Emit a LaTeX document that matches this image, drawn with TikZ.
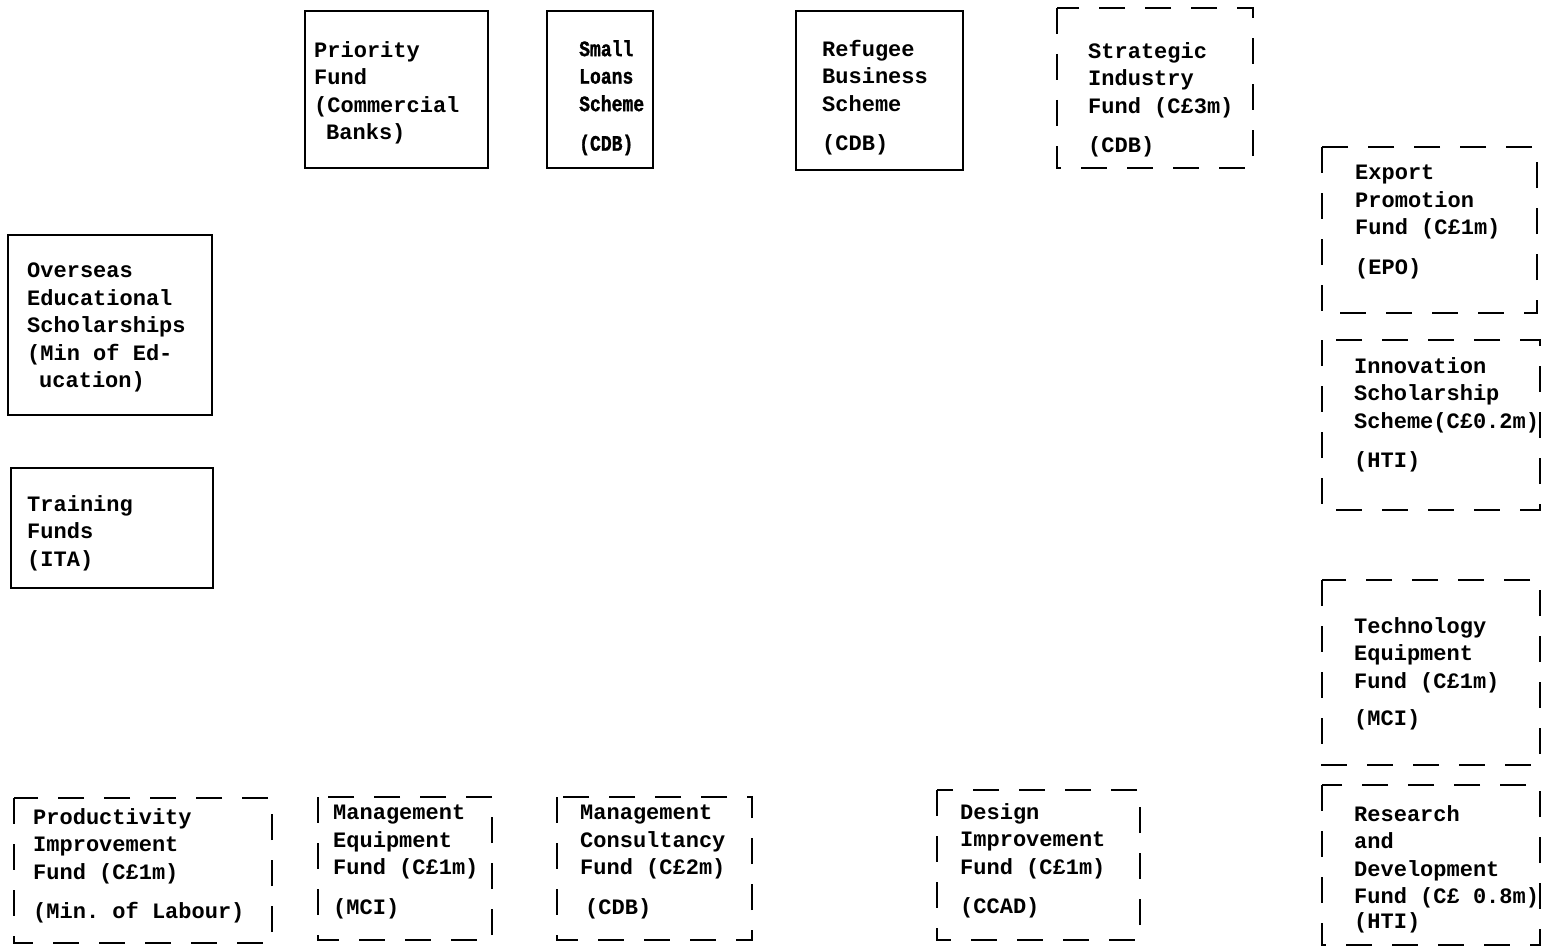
\documentclass[tikz,border=0pt]{standalone}
\usepackage{fontspec}
\setmonofont{Liberation Mono}
\tikzset{
  solidbox/.style={line width=2.6pt},
  dashbox/.style={line width=2.6pt, dash pattern=on 26pt off 20pt},
  fundtext/.style={anchor=north west, inner sep=0pt, align=left,
    font=\ttfamily\bfseries\fontsize{22}{27.5}\selectfont}
}
\begin{document}
\begin{tikzpicture}[x=1pt,y=-1pt]

    \useasboundingbox (0,0) rectangle (1544,947);

    % Top row
    \draw[solidbox] (305,11) rectangle (488,168);
    \node[fundtext] (priority) at (314,41) {Priority\\Fund\\(Commercial\\\hspace*{12pt}Banks)};

    \draw[solidbox] (547,11) rectangle (653,168);
    \node[fundtext, font=\ttfamily\bfseries\fontsize{22}{27.5}\selectfont\addfontfeatures{FakeStretch=0.82,FakeBold=1.2}] (smallloans) at (579,40) {Small\\Loans\\Scheme\\[12pt](CDB)};

    \draw[solidbox] (796,11) rectangle (963,170);
    \node[fundtext] (refugee) at (822,40) {Refugee\\Business\\Scheme\\[12pt](CDB)};

    \draw[dashbox] (1057,8) rectangle (1253,168);
    \node[fundtext] (strategic) at (1088,42) {Strategic\\Industry\\Fund (C£3m)\\[12pt](CDB)};

    % Left column
    \draw[solidbox] (8,235) rectangle (212,415);
    \node[fundtext] (overseas) at (27,263) {Overseas\\Educational\\Scholarships\\(Min of Ed-\\\hspace*{12pt}ucation)};

    \draw[solidbox] (11,468) rectangle (213,588);
    \node[fundtext] (training) at (27,495) {Training\\Funds\\(ITA)};

    % Right column
    \draw[dashbox] (1322,147) rectangle (1537,313);
    \node[fundtext] (export) at (1355,165) {Export\\Promotion\\Fund (C£1m)\\[12pt](EPO)};

    \draw[dashbox] (1322,340) rectangle (1540,510);
    \node[fundtext] (innovation) at (1354,357) {Innovation\\Scholarship\\Scheme(C£0.2m)\\[12pt](HTI)};

    \draw[dashbox] (1322,580) rectangle (1540,765);
    \node[fundtext] (technology) at (1354,617) {Technology\\Equipment\\Fund (C£1m)\\[10pt](MCI)};

    \draw[dashbox] (1322,785) rectangle (1540,945);
    \node[fundtext] (research) at (1354,805) {Research\\and\\Development\\Fund (C£ 0.8m)\\[-3pt](HTI)};

    % Bottom row
    \draw[dashbox] (14,798) rectangle (272,943);
    \node[fundtext] (productivity) at (33,808) {Productivity\\Improvement\\Fund  (C£1m)\\[12pt](Min. of Labour)};

    \draw[dashbox] (318,797) rectangle (492,940);
    \node[fundtext] (mgmtequip) at (333,805) {Management\\Equipment\\Fund (C£1m)\\[12pt](MCI)};

    \draw[dashbox] (557,797) rectangle (752,940);
    \node[fundtext] (mgmtconsult) at (580,805) {Management\\Consultancy\\Fund (C£2m)\\[12pt]\hspace*{5pt}(CDB)};

    \draw[dashbox] (937,790) rectangle (1140,940);
    \node[fundtext] (design) at (960,803) {Design\\Improvement\\Fund (C£1m)\\[12pt](CCAD)};

\end{tikzpicture}
\end{document}
